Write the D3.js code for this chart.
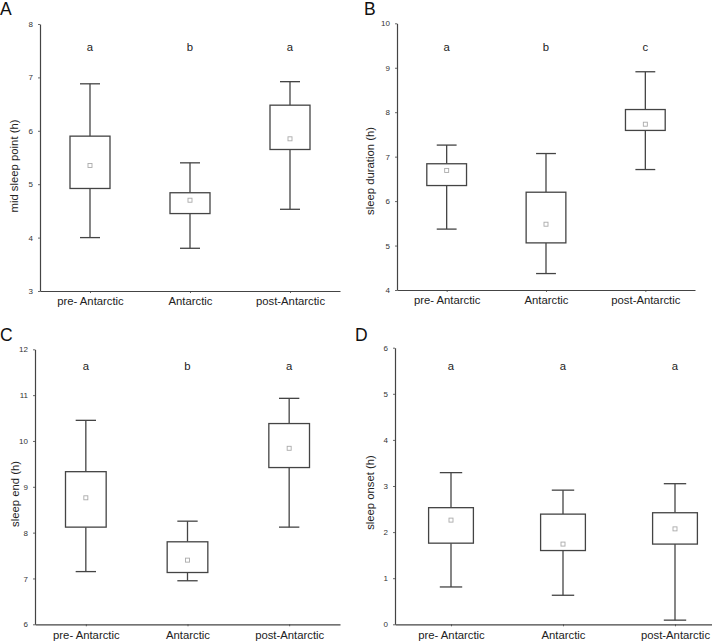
<!DOCTYPE html>
<html>
<head>
<meta charset="utf-8">
<script src="https://cdn.jsdelivr.net/npm/d3@7"></script>
<style>
  html, body { margin: 0; padding: 0; background: #fff; }
  svg { display: block; font-family: "Liberation Sans", Arial, sans-serif; }
</style>
</head>
<body>
<svg id="chart" width="712" height="642"></svg>
<script>
// ---- data ----
const categories = ["pre- Antarctic", "Antarctic", "post-Antarctic"];

// Panel A: mid sleep point (h)
const midLow   = [4.00, 3.80, 4.53];
const midQ1    = [4.92, 4.45, 5.65];
const midMean  = [5.35, 4.70, 5.85];
const midQ3    = [5.90, 4.84, 6.48];
const midHigh  = [6.88, 5.40, 6.92];
const midLetters = ["a", "b", "a"];
const midTicks = [3, 4, 5, 6, 7, 8];

// Panel B: sleep duration (h)
const durLow   = [5.37, 4.37, 6.71];
const durQ1    = [6.35, 5.06, 7.59];
const durMean  = [6.69, 5.48, 7.73];
const durQ3    = [6.84, 6.20, 8.06];
const durHigh  = [7.26, 7.07, 8.91];
const durLetters = ["a", "b", "c"];
const durTicks = [4, 5, 6, 7, 8, 9, 10];

// Panel C: sleep end (h)
const endLow   = [7.15, 6.95, 8.12];
const endQ1    = [8.12, 7.13, 9.42];
const endMean  = [8.76, 7.40, 9.84];
const endQ3    = [9.33, 7.80, 10.38];
const endHigh  = [10.45, 8.25, 10.93];
const endLetters = ["a", "b", "a"];
const endTicks = [6, 7, 8, 9, 10, 11, 12];

// Panel D: sleep onset (h)
const onsLow   = [0.81, 0.63, 0.09];
const onsQ1    = [1.76, 1.60, 1.74];
const onsMean  = [2.26, 1.74, 2.07];
const onsQ3    = [2.53, 2.39, 2.42];
const onsHigh  = [3.29, 2.91, 3.05];
const onsLetters = ["a", "a", "a"];
const onsTicks = [0, 1, 2, 3, 4, 5, 6];

// ---- layout ----
const panels = [
  { tag: "A", title: "mid sleep point (h)", low: midLow, q1: midQ1, mean: midMean, q3: midQ3, high: midHigh,
    letters: midLetters, ticks: midTicks,
    x0: 40, x1: 340, yTop: 24, yBot: 291, tagX: 0, tagY: 14, labX: 14, labY: 166, letY: 47.3 },
  { tag: "B", title: "sleep duration (h)", low: durLow, q1: durQ1, mean: durMean, q3: durQ3, high: durHigh,
    letters: durLetters, ticks: durTicks,
    x0: 397, x1: 695, yTop: 23.3, yBot: 290, tagX: 364, tagY: 14, labX: 370, labY: 171, letY: 47.3 },
  { tag: "C", title: "sleep end (h)", low: endLow, q1: endQ1, mean: endMean, q3: endQ3, high: endHigh,
    letters: endLetters, ticks: endTicks,
    x0: 35, x1: 340, yTop: 349.3, yBot: 624.3, tagX: 0, tagY: 340, labX: 15, labY: 494, letY: 365.7 },
  { tag: "D", title: "sleep onset (h)", low: onsLow, q1: onsQ1, mean: onsMean, q3: onsQ3, high: onsHigh,
    letters: onsLetters, ticks: onsTicks,
    x0: 395, x1: 731, yTop: 347.7, yBot: 624.3, tagX: 355, tagY: 340, labX: 370, labY: 492.5, letY: 365.7 }
];

const svg = d3.select("#chart");
const lineColor = "#444";

panels.forEach(p => {
  const g = svg.append("g");
  const x = d3.scalePoint().domain(categories).range([p.x0, p.x1]).padding(0.5);
  const y = d3.scaleLinear().domain(d3.extent(p.ticks)).range([p.yBot, p.yTop]);
  const step = x.step();
  const bw = step * 0.4, cw = step * 0.2;

  // axes
  const ya = g.append("g").attr("transform", `translate(${p.x0},0)`)
    .call(d3.axisLeft(y).tickValues(p.ticks).tickFormat(d3.format("d")).tickSize(2).tickPadding(5).tickSizeOuter(0));
  const xa = g.append("g").attr("transform", `translate(0,${p.yBot})`)
    .call(d3.axisBottom(x).tickSize(2).tickPadding(5).tickSizeOuter(0));
  [ya, xa].forEach(a => {
    a.select(".domain").attr("stroke", lineColor).attr("stroke-width", 1.2);
    a.selectAll(".tick line").attr("stroke", lineColor).attr("stroke-width", 0.8);
  });
  ya.selectAll(".tick text").attr("font-size", 8).attr("fill", "#333")
    .attr("font-family", "Liberation Sans, Arial, sans-serif");
  xa.selectAll(".tick text").attr("font-size", 11.3).attr("fill", "#222")
    .attr("font-family", "Liberation Sans, Arial, sans-serif").attr("dy", "0.66em");

  const rows = categories.map((c, i) => ({ c, low: p.low[i], q1: p.q1[i], mean: p.mean[i], q3: p.q3[i], high: p.high[i], letter: p.letters[i] }));

  const box = g.selectAll(".bx").data(rows).enter().append("g");
  // whiskers
  box.append("line").attr("x1", d => x(d.c)).attr("x2", d => x(d.c))
    .attr("y1", d => y(d.high)).attr("y2", d => y(d.q3))
    .attr("stroke", lineColor).attr("stroke-width", 1.3);
  box.append("line").attr("x1", d => x(d.c)).attr("x2", d => x(d.c))
    .attr("y1", d => y(d.q1)).attr("y2", d => y(d.low))
    .attr("stroke", lineColor).attr("stroke-width", 1.3);
  box.append("line").attr("x1", d => x(d.c) - cw / 2).attr("x2", d => x(d.c) + cw / 2)
    .attr("y1", d => y(d.high)).attr("y2", d => y(d.high))
    .attr("stroke", lineColor).attr("stroke-width", 1.3);
  box.append("line").attr("x1", d => x(d.c) - cw / 2).attr("x2", d => x(d.c) + cw / 2)
    .attr("y1", d => y(d.low)).attr("y2", d => y(d.low))
    .attr("stroke", lineColor).attr("stroke-width", 1.3);
  // box
  box.append("rect").attr("x", d => x(d.c) - bw / 2).attr("width", bw)
    .attr("y", d => y(d.q3)).attr("height", d => y(d.q1) - y(d.q3))
    .attr("fill", "#fff").attr("stroke", lineColor).attr("stroke-width", 1.3);
  // mean marker
  box.append("rect").attr("x", d => x(d.c) - 2).attr("y", d => y(d.mean) - 2)
    .attr("width", 4).attr("height", 4)
    .attr("fill", "#fff").attr("stroke", "#aaa").attr("stroke-width", 0.9);
  // significance letters
  box.append("text").attr("x", d => x(d.c)).attr("y", p.letY).attr("dy", "0.35em")
    .attr("text-anchor", "middle").attr("font-size", 11.3).attr("fill", "#222")
    .text(d => d.letter);

  // y label
  g.append("text").attr("transform", `translate(${p.labX},${p.labY}) rotate(-90)`)
    .attr("text-anchor", "middle").attr("dy", "0.35em")
    .attr("font-size", 11.3).attr("fill", "#222").text(p.title);

  // panel tag
  g.append("text").attr("x", p.tagX).attr("y", p.tagY + 0.5)
    .attr("font-size", 17.5).attr("fill", "#111").text(p.tag);
});
</script>
</body>
</html>
